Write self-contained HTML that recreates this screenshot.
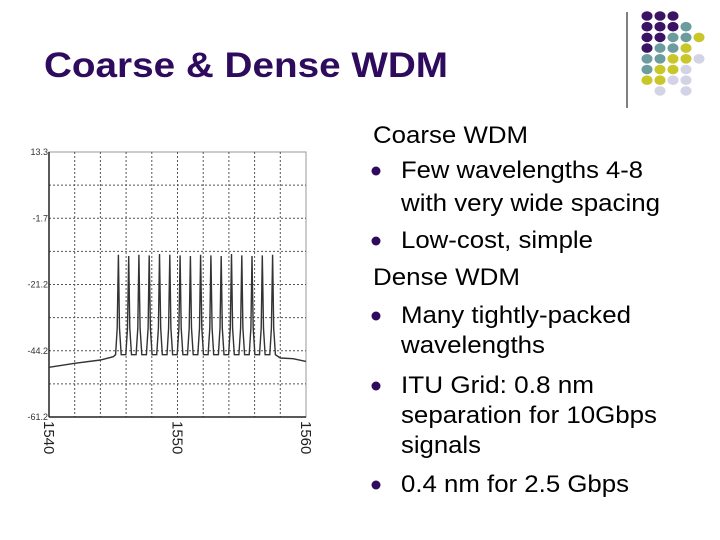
<!DOCTYPE html>
<html><head><meta charset="utf-8"><style>
html,body{margin:0;padding:0;background:#fff}
svg{display:block}
text{font-family:"Liberation Sans",Arial,sans-serif}
</style></head><body>
<svg id="s" width="720" height="540" viewBox="0 0 720 540">
<text x="44" y="77" font-size="35" font-weight="bold" fill="#2e0b5c" textLength="404" lengthAdjust="spacingAndGlyphs">Coarse &amp; Dense WDM</text>
<line x1="627" y1="12" x2="627" y2="108" stroke="#000" stroke-width="1"/>
<g id="dots"></g>
<g id="chart"></g>
<g fill="#000" font-size="24">
<text x="373" y="143" textLength="155" lengthAdjust="spacingAndGlyphs">Coarse WDM</text>
<circle cx="376" cy="171" r="4.5" fill="#2e0b5c"/>
<text x="401" y="178" textLength="242" lengthAdjust="spacingAndGlyphs">Few wavelengths 4-8</text>
<text x="401" y="211" textLength="259" lengthAdjust="spacingAndGlyphs">with very wide spacing</text>
<circle cx="376" cy="241" r="4.5" fill="#2e0b5c"/>
<text x="401" y="248" textLength="192" lengthAdjust="spacingAndGlyphs">Low-cost, simple</text>
<text x="373" y="285" textLength="147" lengthAdjust="spacingAndGlyphs">Dense WDM</text>
<circle cx="376" cy="316" r="4.5" fill="#2e0b5c"/>
<text x="401" y="323" textLength="230" lengthAdjust="spacingAndGlyphs">Many tightly-packed</text>
<text x="401" y="353" textLength="144" lengthAdjust="spacingAndGlyphs">wavelengths</text>
<circle cx="376" cy="386" r="4.5" fill="#2e0b5c"/>
<text x="401" y="393" textLength="193" lengthAdjust="spacingAndGlyphs">ITU Grid:  0.8 nm</text>
<text x="401" y="423" textLength="256" lengthAdjust="spacingAndGlyphs">separation for 10Gbps</text>
<text x="401" y="453" textLength="80" lengthAdjust="spacingAndGlyphs">signals</text>
<circle cx="376" cy="485" r="4.5" fill="#2e0b5c"/>
<text x="401" y="492" textLength="228" lengthAdjust="spacingAndGlyphs">0.4 nm for 2.5 Gbps</text>
</g>
</svg>
<script>
// chart data
const peakWl=[1545.4,1546.2,1547.0,1547.8,1548.6,1549.4,1550.2,1551.0,1551.8,1552.6,1553.4,1554.2,1555.0,1555.8,1556.6,1557.4];
const peakDbm=[-7.2,-7.4,-7.2,-7.3,-7.1,-7.2,-7.3,-7.4,-7.2,-7.3,-7.4,-7.1,-7.3,-7.4,-7.3,-7.2];
const floorWl=[1540,1542,1544,1545,1558,1559,1560];
const floorDbm=[-24.2,-23.6,-23.1,-22.6,-22.8,-22.9,-23.3];
const valleyDbm=-22.3;
const xTicks=[1540,1550,1560];
const yLabels=["13.3","","-1.7","","-21.2","","-44.2","","-61.2"];
const NS='http://www.w3.org/2000/svg';
const X0=49,X1=306,Y0=152,Y1=417, wMin=1540,wMax=1560, dTop=8.3,dBot=-31.7;
const xs=w=>X0+(w-wMin)/(wMax-wMin)*(X1-X0);
const ys=d=>Y0+(dTop-d)/(dTop-dBot)*(Y1-Y0);
const ch=document.getElementById('chart');
function mk(t,a,p){const e=document.createElementNS(NS,t);for(const k in a)e.setAttribute(k,a[k]);(p||ch).appendChild(e);return e;}
let e=mk('rect',{x:X0,y:Y0,width:X1-X0,height:Y1-Y0,fill:'#fff',stroke:'#999','stroke-width':1});


for(let i=1;i<8;i++){const y=Y0+i*(Y1-Y0)/8;
e=mk('line',{x1:X0,x2:X1,y1:y,y2:y,stroke:'#555','stroke-dasharray':'2,2','stroke-width':1});

}
for(let i=1;i<10;i++){const x=X0+i*(X1-X0)/10;
e=mk('line',{x1:x,x2:x,y1:Y0,y2:Y1,stroke:'#555','stroke-dasharray':'2,2','stroke-width':1});

}
e=mk('line',{x1:X0,x2:X0,y1:Y0,y2:Y1,stroke:'#222','stroke-width':1.5});


e=mk('line',{x1:X0,x2:X1,y1:Y1,y2:Y1,stroke:'#222','stroke-width':1.5});


yLabels.forEach((l,i)=>{if(!l)return;const y=Y0+i*(Y1-Y0)/8;
const t=mk('text',{x:X0-1,y:y+3,'font-size':9,'text-anchor':'end',fill:'#333'});t.textContent=l;

});
xTicks.forEach(w=>{const x=xs(w);
const t=mk('text',{x:0,y:0,'font-size':15,fill:'#222',transform:`translate(${x-5},421) rotate(90)`});t.textContent=w;

});
// spectrum path
let pts=[];
floorWl.forEach((w,i)=>{if(w<=1545)pts.push([xs(w),ys(floorDbm[i])]);});
peakWl.forEach((w,i)=>{
 pts.push([xs(w-0.22),ys(valleyDbm)]);
 pts.push([xs(w-0.09),ys(valleyDbm+4)]);
 pts.push([xs(w),ys(peakDbm[i])]);
 pts.push([xs(w+0.09),ys(valleyDbm+4)]);
 pts.push([xs(w+0.22),ys(valleyDbm)]);
});
floorWl.forEach((w,i)=>{if(w>1557.4)pts.push([xs(w),ys(floorDbm[i])]);});
e=mk('path',{d:'M'+pts.map(p=>p[0].toFixed(1)+','+p[1].toFixed(1)).join('L'),fill:'none',stroke:'#333','stroke-width':1.4});


// decor dots
const dotRows=["PPP..","PPPT.","PPTTY","PTTY.","TTYYL","TYYL.","YYLL.",".L.L."];
const dotCol={P:'#3a1463',T:'#6c9c9e',Y:'#c9c62a',L:'#d3d3e6'};
const dg=document.getElementById('dots');
dotRows.forEach((r,ri)=>[...r].forEach((c,ci)=>{if(c==='.')return;
const d=mk('ellipse',{cx:647+ci*13,cy:16+ri*10.7,rx:5.5,ry:4.8,fill:dotCol[c]},dg);

}));
</script>
</body></html>
